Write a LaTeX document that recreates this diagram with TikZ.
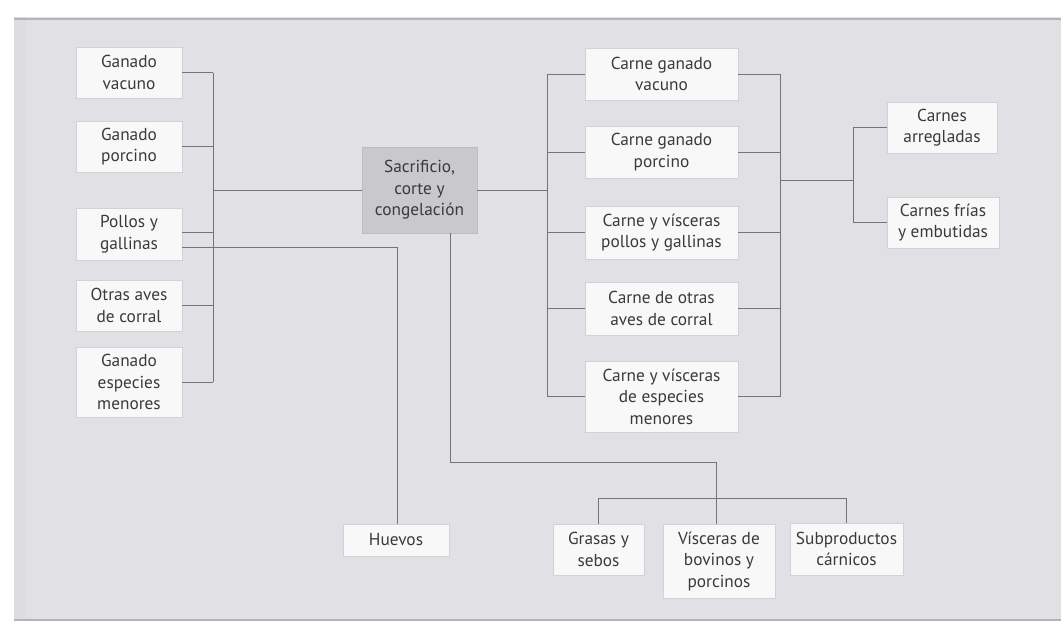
\documentclass[tikz,border=0pt]{standalone}
\usepackage{fontspec}
\setmainfont{PT Sans}
\definecolor{panel}{HTML}{E1E1E5}
\definecolor{paneledge}{HTML}{DDDDDF}
\definecolor{rule}{HTML}{B4B4B6}
\definecolor{boxfill}{HTML}{F8F8F8}
\definecolor{boxline}{HTML}{D2D2D4}
\definecolor{midfill}{HTML}{C9C9CD}
\definecolor{midline}{HTML}{BDBDC0}
\definecolor{lin}{HTML}{747476}
\definecolor{txt}{HTML}{3A3A3A}
\begin{document}
\begin{tikzpicture}[x=1pt,y=-1pt,
  box/.style={draw=boxline, fill=boxfill, line width=0.8pt, align=center,
    inner sep=0pt, text=txt, font=\fontsize{17.3}{21.5}\selectfont},
  midbox/.style={box, draw=midline, fill=midfill},
  conn/.style={draw=lin, line width=1pt}]
\useasboundingbox (0,0) rectangle (1061,621);
% panel
\fill[white] (0,0) rectangle (1061,621);
\fill[panel] (14,17) rectangle (1061,621);
\fill[paneledge] (14,17) rectangle (26,621);
\fill[rule] (14,17.5) rectangle (1061,20);
\fill[rule] (14,618.5) rectangle (1061,621);

% left column
\node[box, minimum width=106pt, minimum height=51pt] (gv) at (129,72.5) {Ganado\\vacuno};
\node[box, minimum width=106pt, minimum height=51pt] (gp) at (129,146.5) {Ganado\\porcino};
\node[box, minimum width=106pt, minimum height=52pt] (pg) at (129,234) {Pollos y\\gallinas};
\node[box, minimum width=106pt, minimum height=51pt] (oa) at (129,305.5) {Otras aves\\de corral};
\node[box, minimum width=106pt, minimum height=70pt] (ge) at (129,382) {Ganado\\especies\\menores};

% centre
\node[midbox, minimum width=115pt, minimum height=86pt] (sac) at (419.5,190) {Sacrificio,\\corte y\\congelación};

% right column
\node[box, minimum width=153pt, minimum height=52pt] (cv) at (661.5,74) {Carne ganado\\vacuno};
\node[box, minimum width=153pt, minimum height=52pt] (cp) at (661.5,152) {Carne ganado\\porcino};
\node[box, minimum width=153pt, minimum height=53pt] (cpg) at (661.5,232.5) {Carne y vísceras\\pollos y gallinas};
\node[box, minimum width=153pt, minimum height=53pt] (co) at (661.5,308.5) {Carne de otras\\aves de corral};
\node[box, minimum width=153pt, minimum height=71pt] (ce) at (661.5,396.5) {Carne y vísceras\\de especies\\menores};

% far right
\node[box, minimum width=110pt, minimum height=51pt] (ca) at (942,127.5) {Carnes\\arregladas};
\node[box, minimum width=112pt, minimum height=51pt] (cf) at (943,222.5) {Carnes frías\\y embutidas};

% bottom
\node[box, minimum width=106pt, minimum height=32pt] (hu) at (396,540) {Huevos};
\node[box, minimum width=91pt, minimum height=51pt] (gs) at (598.5,549.5) {Grasas y\\sebos};
\node[box, minimum width=112pt, minimum height=74pt] (vb) at (719,561) {Vísceras de\\bovinos y\\porcinos};
\node[box, minimum width=113pt, minimum height=52pt] (sp) at (846.5,549) {Subproductos\\cárnicos};

% junction coordinates
\coordinate (busL) at (213,190);
\coordinate (busR) at (547,190);
\coordinate (busR2) at (780,180);
\coordinate (busF) at (853,180);
\coordinate (hv) at (397,247);
\coordinate (j1) at (450,462);
\coordinate (j2) at (716,462);
\coordinate (busB) at (716,498);

% left bus
\draw[conn] (gv.east) -- (gv.east -| busL);
\draw[conn] (gp.east) -- (gp.east -| busL);
\draw[conn] ([yshift=2pt]pg.east) -- ([yshift=2pt]pg.east -| busL);
\draw[conn] (oa.east) -- (oa.east -| busL);
\draw[conn] (ge.east) -- (ge.east -| busL);
\draw[conn] (gv.east -| busL) -- (ge.east -| busL);
\draw[conn] (busL) -- (sac.west);

% eggs
\draw[conn] ([yshift=-13pt]pg.east) -- (hv) -- (hv |- hu.north);

% right bus
\draw[conn] (sac.east) -- (busR);
\draw[conn] (cv.west -| busR) -- (ce.west -| busR);
\foreach \n in {cv,cp,cpg,co,ce} \draw[conn] (\n.west) -- (\n.west -| busR);

% second right bus
\foreach \n in {cv,cp,cpg,co,ce} \draw[conn] (\n.east) -- (\n.east -| busR2);
\draw[conn] (cv.east -| busR2) -- (ce.east -| busR2);
\draw[conn] (busR2) -- (busF);
\draw[conn] (ca.west -| busF) -- (cf.west -| busF);
\draw[conn] (ca.west) -- (ca.west -| busF);
\draw[conn] (cf.west) -- (cf.west -| busF);

% down from centre
\draw[conn] ([xshift=30.5pt]sac.south) -- (j1) -- (j2) -- (j2 |- vb.north);
\draw[conn] (gs.north) -- (gs.north |- busB) -- (sp.north |- busB) -- (sp.north);
\end{tikzpicture}
\end{document}
